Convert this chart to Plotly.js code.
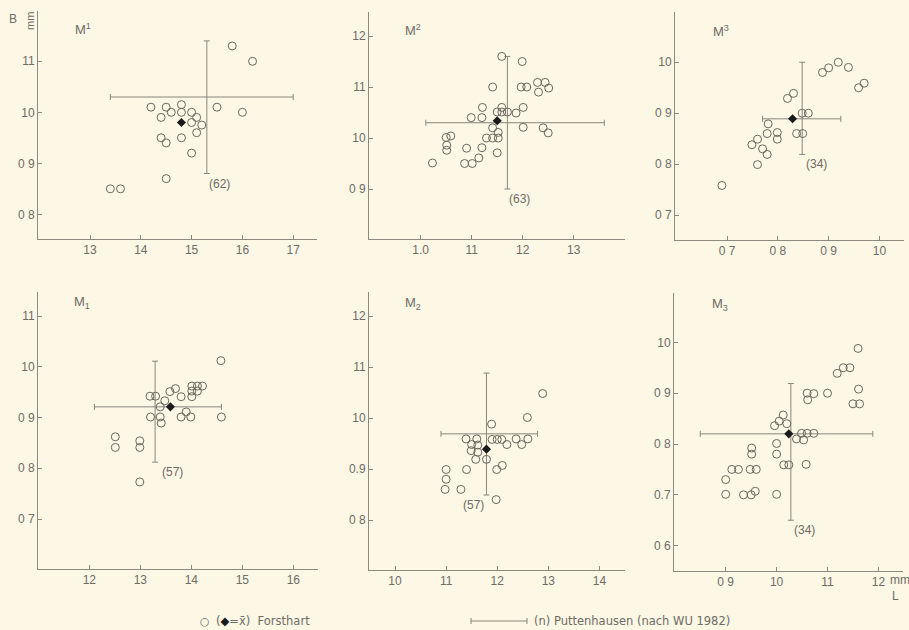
<!DOCTYPE html>
<html>
<head>
<meta charset="utf-8">
<script src="https://cdn.plot.ly/plotly-3.0.1.min.js"></script>
<style>
html,body{margin:0;padding:0;background:#fdf7e5;}
#chart{width:909px;height:630px;}
</style>
</head>
<body>
<div id="chart"></div>
<script>
// ---------- DATA (length L on x, width B on y, in mm) ----------
// Forsthart individual teeth
const p1x = [1.58,1.62,1.42,1.45,1.48,1.44,1.46,1.48,1.50,1.51,1.50,1.52,1.51,1.55,1.60,1.44,1.45,1.48,1.50,1.45,1.34,1.36];
const p1y = [1.13,1.10,1.01,1.01,1.015,0.99,1.00,1.00,1.00,0.99,0.98,0.975,0.96,1.01,1.00,0.95,0.94,0.95,0.92,0.87,0.85,0.85];

const p2x = [1.159,1.199,1.141,1.197,1.208,1.229,1.244,1.231,1.251,1.121,1.159,1.201,1.099,1.120,1.150,1.159,1.170,1.187,1.141,1.201,1.240,1.250,1.152,1.129,1.141,1.152,1.050,1.059,1.051,1.051,1.090,1.120,1.150,1.114,1.086,1.101,1.023];
const p2y = [1.160,1.150,1.100,1.100,1.100,1.109,1.109,1.090,1.098,1.060,1.060,1.060,1.040,1.040,1.051,1.051,1.051,1.049,1.020,1.021,1.020,1.010,1.011,1.000,1.000,1.000,1.001,1.004,0.986,0.976,0.980,0.981,0.971,0.961,0.950,0.950,0.951];

const p3x = [0.919,0.900,0.888,0.939,0.959,0.970,0.831,0.819,0.848,0.860,0.781,0.799,0.799,0.779,0.837,0.849,0.760,0.749,0.770,0.779,0.760,0.690];
const p3y = [1.000,0.989,0.980,0.990,0.950,0.959,0.939,0.929,0.900,0.900,0.879,0.862,0.849,0.860,0.860,0.860,0.849,0.838,0.830,0.819,0.799,0.758];

const p4x = [1.458,1.369,1.401,1.412,1.422,1.401,1.412,1.401,1.358,1.319,1.330,1.348,1.380,1.339,1.390,1.380,1.399,1.459,1.320,1.339,1.341,1.251,1.251,1.299,1.299,1.299];
const p4y = [1.012,0.957,0.962,0.962,0.962,0.952,0.952,0.941,0.951,0.942,0.942,0.933,0.941,0.921,0.911,0.901,0.901,0.901,0.901,0.901,0.889,0.862,0.841,0.854,0.841,0.773];

const p5x = [1.289,1.259,1.189,1.139,1.160,1.190,1.200,1.209,1.237,1.260,1.248,1.219,1.150,1.162,1.149,1.162,1.158,1.179,1.210,1.199,1.140,1.100,1.100,1.098,1.129,1.198];
const p5y = [1.048,1.001,0.988,0.959,0.959,0.958,0.958,0.958,0.959,0.959,0.948,0.948,0.948,0.947,0.936,0.933,0.919,0.919,0.907,0.899,0.899,0.899,0.880,0.860,0.860,0.840];

const p6x = [1.160,1.119,1.131,1.144,1.161,1.150,1.163,1.100,1.060,1.073,1.061,1.013,1.005,0.996,1.020,1.049,1.060,1.073,1.039,1.053,1.000,0.951,0.951,1.000,1.014,1.024,1.058,0.912,0.925,0.948,0.960,0.900,0.900,0.935,0.950,0.958,1.000];
const p6y = [0.988,0.939,0.950,0.950,0.908,0.879,0.879,0.900,0.900,0.899,0.887,0.857,0.845,0.836,0.840,0.821,0.821,0.821,0.810,0.808,0.801,0.792,0.780,0.780,0.759,0.759,0.760,0.750,0.750,0.750,0.750,0.730,0.701,0.700,0.700,0.707,0.701];

// Forsthart means
const meanX = [1.48, 1.15, 0.829, 1.359, 1.179, 1.024];
const meanY = [0.98, 1.034, 0.889, 0.921, 0.939, 0.820];

// Puttenhausen (nach WU 1982): mean and range
const putX   = [1.53, 1.17, 0.848, 1.329, 1.179, 1.028];
const putXlo = [1.34, 1.01, 0.77, 1.21, 1.09, 0.85];
const putXhi = [1.70, 1.36, 0.924, 1.459, 1.279, 1.189];
const putY   = [1.03, 1.03, 0.889, 0.921, 0.969, 0.820];
const putYlo = [0.88, 0.90, 0.819, 0.812, 0.849, 0.65];
const putYhi = [1.14, 1.16, 1.00, 1.011, 1.088, 0.919];
const putN   = [62, 63, 34, 57, 57, 34];

const panelNames = ["M<sup>1</sup>","M<sup>2</sup>","M<sup>3</sup>","M<sub>1</sub>","M<sub>2</sub>","M<sub>3</sub>"];

const xTickVals = [[1.3,1.4,1.5,1.6,1.7],[1.0,1.1,1.2,1.3],[0.7,0.8,0.9,1.0],[1.2,1.3,1.4,1.5,1.6],[1.0,1.1,1.2,1.3,1.4],[0.9,1.0,1.1,1.2]];
const xTickText = [["13","14","15","16","17"],["1.0","11","12","13"],["0 7","0 8","0 9","10"],["12","13","14","15","16"],["10","11","12","13","14"],["0 9","10","11","12"]];
const yTickVals = [[1.1,1.0,0.9,0.8],[1.2,1.1,1.0,0.9],[1.0,0.9,0.8,0.7],[1.1,1.0,0.9,0.8,0.7],[1.2,1.1,1.0,0.9,0.8],[1.0,0.9,0.8,0.7,0.6]];
const yTickText = [["11","10","0 9","0 8"],["12","11","10","0 9"],["10","0 9","0 8","0 7"],["11","10","0 9","0 8","0 7"],["12","11","10","0.9","0 8"],["10","0 9","0 8","0.7","0 6"]];

// ---------- LAYOUT GEOMETRY (pixels) ----------
const W = 909, H = 630;
const geo = [
  {x0:38,  x1:317, top:11,  bot:239,   xr:[1.1976,1.7469], yr:[0.7516,1.1986], lab:[73,29]},
  {x0:369, x1:625, top:12,  bot:239,   xr:[0.8986,1.4006], yr:[0.8020,1.2471], lab:[403,30]},
  {x0:675, x1:904, top:12,  bot:239.7, xr:[0.5976,1.0484], yr:[0.6515,1.0988], lab:[711,31]},
  {x0:38,  x1:318, top:292, bot:569,   xr:[1.0994,1.6484], yr:[0.6015,1.1473], lab:[72,302]},
  {x0:369, x1:625, top:292, bot:570,   xr:[0.9491,1.4501], yr:[0.7020,1.2471], lab:[403,303]},
  {x0:674, x1:903, top:293, bot:570.7, xr:[0.7984,1.2483], yr:[0.5508,1.0970], lab:[710,304]}
];
const nAnchor = ['left','left','left','left','right','left'];
const nShift  = [0, 0, 2, 5, 0, 1];

const px = v => v / W;
const py = v => 1 - v / H;

const pts = [[p1x,p1y],[p2x,p2y],[p3x,p3y],[p4x,p4y],[p5x,p5y],[p6x,p6y]];
const lineCol = '#8e8a80';
const txtCol = '#6f6c66';
const fontFam = 'Liberation Sans, Arial, sans-serif';
const legFam = 'DejaVu Sans, sans-serif';

const traces = [];
const layout = {
  width: W, height: H,
  margin: {l:0, r:0, t:0, b:0},
  paper_bgcolor: '#fdf7e5',
  plot_bgcolor: 'rgba(0,0,0,0)',
  showlegend: false,
  font: {family: fontFam, color: txtCol, size: 12},
  annotations: [],
  shapes: []
};

for (let i = 0; i < 6; i++) {
  const g = geo[i];
  const xa = i === 0 ? 'xaxis' : 'xaxis' + (i+1);
  const ya = i === 0 ? 'yaxis' : 'yaxis' + (i+1);
  const xr = i === 0 ? 'x' : 'x' + (i+1);
  const yr = i === 0 ? 'y' : 'y' + (i+1);
  layout[xa] = {
    domain: [px(g.x0), px(g.x1)], range: g.xr, anchor: yr,
    showline: true, linecolor: lineCol, linewidth: 1,
    showgrid: false, zeroline: false,
    ticks: 'inside', ticklen: 4, tickcolor: lineCol, tickwidth: 1,
    tickmode: 'array', tickvals: xTickVals[i], ticktext: xTickText[i],
    tickfont: {size: 12, color: txtCol, family: fontFam}, fixedrange: true
  };
  layout[ya] = {
    domain: [py(g.bot), py(g.top)], range: g.yr, anchor: xr,
    showline: true, linecolor: lineCol, linewidth: 1,
    showgrid: false, zeroline: false,
    ticks: 'inside', ticklen: 4, tickcolor: lineCol, tickwidth: 1,
    tickmode: 'array', tickvals: yTickVals[i], ticktext: yTickText[i],
    tickfont: {size: 12, color: txtCol, family: fontFam}, fixedrange: true
  };

  // Puttenhausen cross (range bars)
  traces.push({
    type: 'scatter', mode: 'markers', xaxis: xr, yaxis: yr,
    x: [putX[i]], y: [putY[i]],
    marker: {size: 1, color: 'rgba(0,0,0,0)'},
    error_x: {type: 'data', symmetric: false, array: [putXhi[i]-putX[i]], arrayminus: [putX[i]-putXlo[i]], width: 3, thickness: 1, color: '#8a867d'},
    error_y: {type: 'data', symmetric: false, array: [putYhi[i]-putY[i]], arrayminus: [putY[i]-putYlo[i]], width: 3, thickness: 1, color: '#8a867d'},
    hoverinfo: 'skip'
  });
  // Forsthart points
  traces.push({
    type: 'scatter', mode: 'markers', xaxis: xr, yaxis: yr,
    x: pts[i][0], y: pts[i][1],
    marker: {symbol: 'circle-open', size: 8, color: '#6a675f', line: {width: 1, color: '#6a675f'}}
  });
  // Forsthart mean
  traces.push({
    type: 'scatter', mode: 'markers', xaxis: xr, yaxis: yr,
    x: [meanX[i]], y: [meanY[i]],
    marker: {symbol: 'diamond', size: 7, color: '#1a1a1a'}
  });

  // (n) label
  layout.annotations.push({
    xref: xr, yref: yr, x: putX[i], y: putYlo[i],
    xanchor: nAnchor[i], yanchor: 'top', xshift: nShift[i], yshift: -1,
    text: '(' + putN[i] + ')', showarrow: false,
    font: {size: 12, color: txtCol, family: fontFam}
  });
  // panel label
  layout.annotations.push({
    xref: 'paper', yref: 'paper', x: px(g.lab[0]), y: py(g.lab[1]),
    xanchor: 'left', yanchor: 'middle',
    text: panelNames[i], showarrow: false,
    font: {size: 13, color: txtCol, family: fontFam}
  });
}

// axis name labels
layout.annotations.push({xref:'paper', yref:'paper', x:px(13), y:py(19), text:'B', showarrow:false, xanchor:'center', yanchor:'middle', font:{size:12, color:txtCol, family:fontFam}});
layout.annotations.push({xref:'paper', yref:'paper', x:px(30), y:py(21), text:'mm', textangle:-90, showarrow:false, xanchor:'center', yanchor:'middle', font:{size:11, color:txtCol, family:fontFam}});
layout.annotations.push({xref:'paper', yref:'paper', x:px(888), y:py(580), text:'mm', showarrow:false, xanchor:'left', yanchor:'middle', font:{size:12, color:txtCol, family:fontFam}});
layout.annotations.push({xref:'paper', yref:'paper', x:px(895), y:py(596), text:'L', showarrow:false, xanchor:'center', yanchor:'middle', font:{size:12, color:txtCol, family:fontFam}});

// legend row
layout.annotations.push({xref:'paper', yref:'paper', x:px(198), y:py(621), text:'○', showarrow:false, xanchor:'left', yanchor:'middle', font:{size:11, color:txtCol, family:legFam}});
layout.annotations.push({xref:'paper', yref:'paper', x:px(214), y:py(621), text:'(<span style="color:#1a1a1a">◆</span>=x̄)  Forsthart', showarrow:false, xanchor:'left', yanchor:'middle', font:{size:11.5, color:txtCol, family:legFam}});
layout.annotations.push({xref:'paper', yref:'paper', x:px(532), y:py(621), text:'(n) Puttenhausen (nach WU 1982)', showarrow:false, xanchor:'left', yanchor:'middle', font:{size:11.5, color:txtCol, family:legFam}});
layout.shapes.push({type:'line', xref:'paper', yref:'paper', x0:px(471), x1:px(527), y0:py(621), y1:py(621), line:{color:'#8a867d', width:1}});
layout.shapes.push({type:'line', xref:'paper', yref:'paper', x0:px(471), x1:px(471), y0:py(618), y1:py(624), line:{color:'#8a867d', width:1}});
layout.shapes.push({type:'line', xref:'paper', yref:'paper', x0:px(527), x1:px(527), y0:py(618), y1:py(624), line:{color:'#8a867d', width:1}});

Plotly.newPlot('chart', traces, layout, {staticPlot: true, displayModeBar: false});
</script>
</body>
</html>
